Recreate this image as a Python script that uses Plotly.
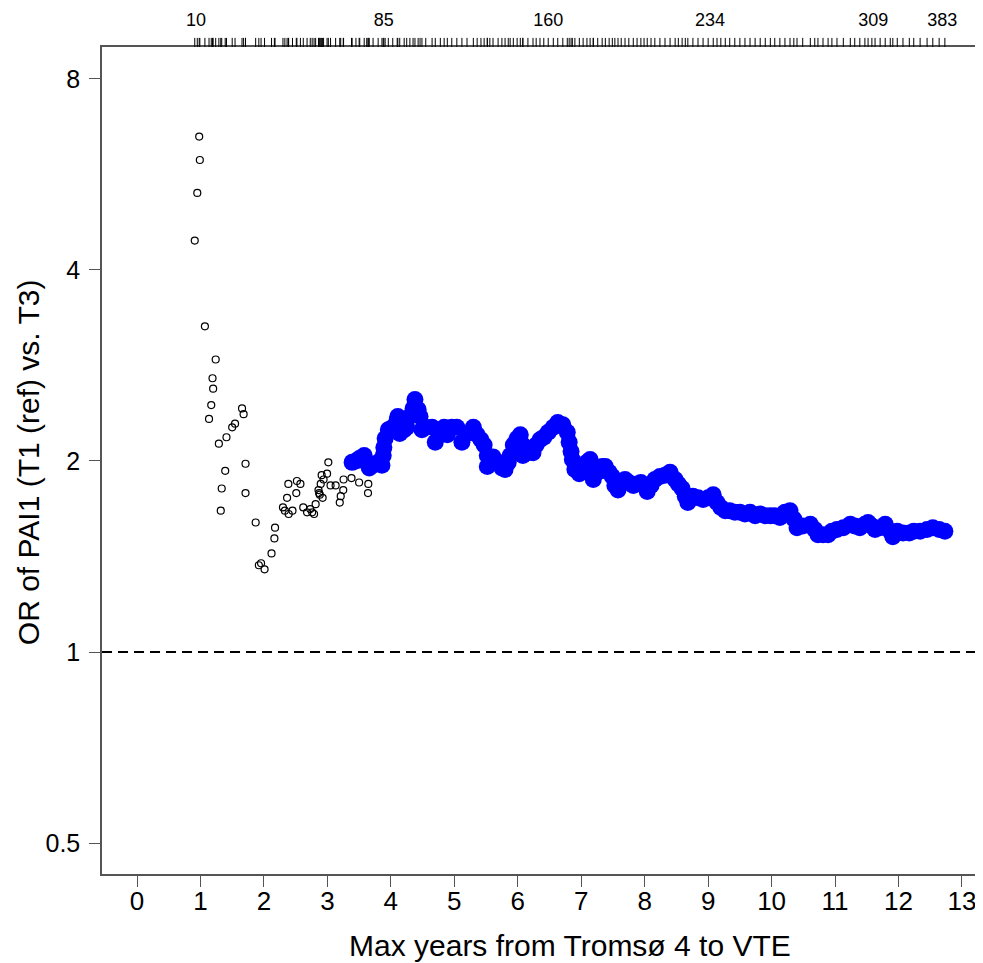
import plotly.graph_objects as go

# ---- data: open circles (not significant) ----
open_years = [0.98, 0.99, 0.95, 0.91, 1.07, 1.24, 1.19, 1.20, 1.17, 1.135, 1.655, 1.68, 1.545, 1.50,
              1.41, 1.29, 1.71, 1.39, 1.335, 1.71, 1.32, 1.87, 2.175, 2.165, 2.12, 1.955, 1.92, 2.01,
              2.385, 2.52, 2.575, 2.51, 2.365, 2.30, 2.33, 2.39, 2.45, 2.62, 2.68, 2.73, 2.76, 2.79,
              2.815, 2.86, 2.87, 2.88, 2.925, 2.895, 2.94, 2.91, 2.995, 3.015, 3.05, 3.13, 3.195, 3.21,
              3.25, 3.255, 3.38, 3.50, 3.645, 3.64]
open_or = [6.49, 5.96, 5.29, 4.45, 3.26, 2.89, 2.70, 2.60, 2.45, 2.33, 2.42, 2.37, 2.29, 2.26,
           2.18, 2.13, 1.98, 1.93, 1.81, 1.78, 1.67, 1.60, 1.57, 1.51, 1.43, 1.38, 1.37, 1.35,
           1.84, 1.86, 1.84, 1.78, 1.75, 1.69, 1.67, 1.65, 1.67, 1.69, 1.66, 1.68, 1.66, 1.65,
           1.71, 1.80, 1.78, 1.77, 1.75, 1.84, 1.87, 1.90, 1.91, 1.99, 1.83, 1.83, 1.72, 1.76,
           1.80, 1.87, 1.88, 1.85, 1.84, 1.78]

# ---- data: filled blue circles (significant) ----
sig_years = [3.39, 3.45, 3.51, 3.58, 3.62, 3.66, 3.72, 3.80, 3.86, 3.88, 3.89, 3.91, 3.96, 4.03,
             4.10, 4.11, 4.14, 4.21, 4.25, 4.30, 4.35, 4.38, 4.43, 4.46, 4.49, 4.55, 4.65, 4.70,
             4.78, 4.84, 4.89, 4.96, 5.04, 5.12, 5.20, 5.30, 5.36, 5.42, 5.47, 5.52, 5.52, 5.56,
             5.61, 5.69, 5.75, 5.80, 5.85, 5.88, 5.93, 5.99, 6.04, 6.08, 6.08, 6.16, 6.24, 6.29,
             6.35, 6.41, 6.48, 6.56, 6.63, 6.71, 6.78, 6.81, 6.84, 6.86, 6.90, 6.97, 7.03, 7.09,
             7.14, 7.19, 7.19, 7.26, 7.33, 7.38, 7.44, 7.49, 7.53, 7.58, 7.63, 7.69, 7.75, 7.82,
             7.88, 7.94, 7.99, 8.04, 8.10, 8.16, 8.24, 8.32, 8.40, 8.48, 8.53, 8.59, 8.64, 8.68,
             8.76, 8.84, 8.92, 9.00, 9.08, 9.14, 9.20, 9.27, 9.34, 9.42, 9.50, 9.58, 9.66, 9.74,
             9.82, 9.90, 9.98, 10.05, 10.13, 10.21, 10.29, 10.35, 10.40, 10.49, 10.61, 10.68,
             10.73, 10.81, 10.89, 10.95, 11.03, 11.13, 11.24, 11.31, 11.39, 11.47, 11.52, 11.58,
             11.63, 11.71, 11.79, 11.87, 11.91, 11.98, 12.07, 12.17, 12.24, 12.34, 12.45, 12.54,
             12.64, 12.73]
sig_or = [1.99, 2.00, 2.02, 2.04, 1.99, 1.95, 1.97, 1.99, 1.97, 2.04, 2.10, 2.17, 2.24, 2.26,
          2.32, 2.35, 2.21, 2.24, 2.26, 2.35, 2.42, 2.50, 2.41, 2.35, 2.24, 2.26, 2.26, 2.14,
          2.21, 2.26, 2.20, 2.26, 2.26, 2.14, 2.21, 2.26, 2.20, 2.16, 2.12, 2.04, 1.96, 1.99,
          2.03, 1.99, 1.95, 1.94, 1.99, 2.04, 2.12, 2.17, 2.20, 2.04, 2.12, 2.06, 2.06, 2.12,
          2.16, 2.18, 2.22, 2.26, 2.30, 2.28, 2.22, 2.14, 2.07, 2.01, 1.94, 1.91, 1.94, 1.99,
          2.01, 1.94, 1.87, 1.92, 1.96, 1.96, 1.92, 1.89, 1.83, 1.80, 1.84, 1.87, 1.85, 1.83,
          1.84, 1.85, 1.83, 1.79, 1.83, 1.87, 1.89, 1.90, 1.92, 1.87, 1.84, 1.81, 1.76, 1.72,
          1.76, 1.75, 1.74, 1.75, 1.77, 1.72, 1.69, 1.67, 1.67, 1.66, 1.66, 1.65, 1.66, 1.64,
          1.65, 1.64, 1.64, 1.64, 1.63, 1.66, 1.67, 1.62, 1.57, 1.58, 1.59, 1.56,
          1.53, 1.53, 1.53, 1.55, 1.56, 1.57, 1.59, 1.58, 1.57, 1.59, 1.60, 1.58,
          1.56, 1.57, 1.59, 1.55, 1.52, 1.55, 1.54, 1.54, 1.55, 1.55, 1.56, 1.57,
          1.56, 1.55]

# ---- axis labels ----
x_ticks = list(range(0, 14))
y_ticks = [0.5, 1, 2, 4, 8]
y_tick_text = ["0.5", "1", "2", "4", "8"]
top_tick_years = [0.93, 3.89, 6.48, 9.03, 11.60, 12.69]
top_tick_text = ["10", "85", "160", "234", "309", "383"]
x_title = "Max years from Tromsø 4 to VTE"
y_title = "OR of PAI1 (T1 (ref) vs. T3)"
ref_line_or = 1

FONT = "Liberation Sans, Arial, Helvetica, sans-serif"
AXC = "#555555"

fig = go.Figure()
fig.add_trace(go.Scatter(
    x=open_years, y=open_or, mode="markers",
    marker=dict(symbol="circle-open", size=7, color="black", line=dict(width=1.2, color="black")),
    showlegend=False, hoverinfo="skip"))
fig.add_trace(go.Scatter(
    x=sig_years, y=sig_or, mode="markers",
    marker=dict(symbol="circle", size=17, color="#0000FF", line=dict(width=0)),
    showlegend=False, hoverinfo="skip"))
# invisible trace to activate the top axis
fig.add_trace(go.Scatter(x=[top_tick_years[0]], y=[ref_line_or], xaxis="x2", mode="markers",
                         marker=dict(opacity=0), showlegend=False, hoverinfo="skip"))

xr = [-0.5515, 13.331]
shapes = [dict(type="line", xref="paper", yref="y", x0=0, x1=1, y0=ref_line_or, y1=ref_line_or,
               line=dict(color="black", width=2, dash="10px,6px"))]
event_years = sorted(open_years + sig_years)
for ev in event_years:
    shapes.append(dict(type="line", xref="x", yref="paper", x0=ev, x1=ev, y0=1.0, y1=1.011,
                       line=dict(color="black", width=1)))

annotations = [
    dict(text=x_title, xref="paper", yref="paper", x=0.531, y=-0.086, xanchor="center",
         yanchor="middle", showarrow=False, font=dict(size=30, family=FONT, color="black")),
    dict(text=y_title, xref="paper", yref="paper", x=-0.084, y=0.498, xanchor="center",
         yanchor="middle", textangle=-90, showarrow=False,
         font=dict(size=30, family=FONT, color="black")),
]

# the page body adds an 8px offset, so the figure is 8px smaller and margins 8px less
fig.update_layout(
    width=975, height=955,
    margin=dict(l=94, r=0, t=39, b=89),
    paper_bgcolor="white", plot_bgcolor="white",
    font=dict(family=FONT, color="black"),
    shapes=shapes,
    annotations=annotations,
    xaxis=dict(range=xr, tickvals=x_ticks, ticktext=[str(t) for t in x_ticks], automargin=False,
               showgrid=False, zeroline=False, showline=True, linecolor=AXC, linewidth=1.5,
               ticks="outside", ticklen=11, tickcolor=AXC, tickwidth=1, ticklabelstandoff=-8,
               tickfont=dict(size=26, family=FONT)),
    xaxis2=dict(range=xr, overlaying="x", side="top", tickvals=top_tick_years, automargin=False,
                ticktext=top_tick_text, showgrid=False, zeroline=False, showline=True,
                linecolor=AXC, linewidth=1.5, ticks="", ticklabelstandoff=12,
                tickfont=dict(size=18, family=FONT)),
    yaxis=dict(type="log", range=[-0.3497, 0.9533], tickvals=y_ticks, ticktext=y_tick_text,
               automargin=False,
               showgrid=False, zeroline=False, showline=True, linecolor=AXC, linewidth=1.5,
               ticks="outside", ticklen=11, tickcolor=AXC, tickwidth=1, ticklabelstandoff=4,
               tickfont=dict(size=25, family=FONT)),
)
fig.write_html("out.html")
